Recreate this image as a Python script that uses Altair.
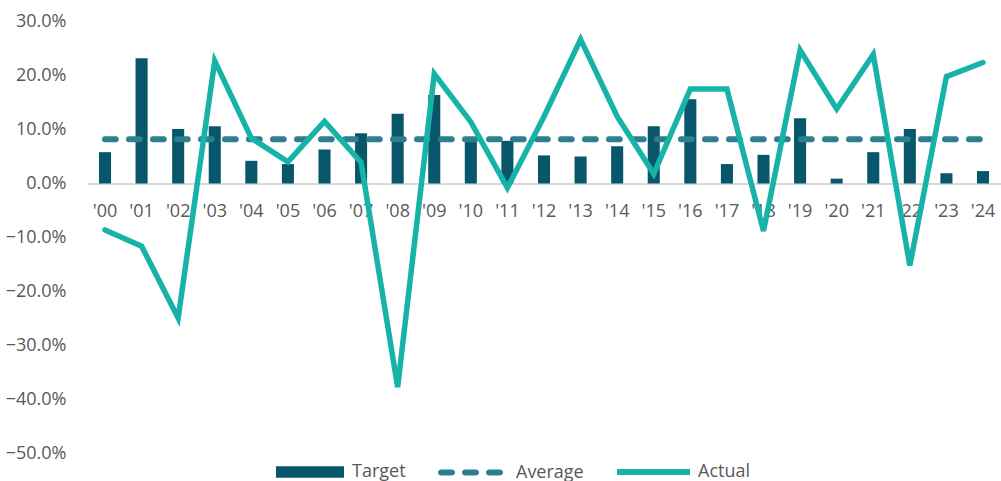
import altair as alt
import pandas as pd

years = ["'00", "'01", "'02", "'03", "'04", "'05", "'06", "'07", "'08", "'09",
         "'10", "'11", "'12", "'13", "'14", "'15", "'16", "'17", "'18", "'19",
         "'20", "'21", "'22", "'23", "'24"]
target = [5.8, 23.2, 10.1, 10.6, 4.2, 3.6, 6.3, 9.3, 12.9, 16.4,
          8.4, 7.9, 5.2, 5.0, 6.9, 10.6, 15.6, 3.6, 5.3, 12.1,
          0.9, 5.8, 10.1, 1.9, 2.3]
actual = [-8.6, -11.6, -24.9, 22.7, 8.4, 4.0, 11.5, 3.9, -37.7, 20.3,
          11.4, -0.8, 12.4, 26.7, 12.4, 1.8, 17.5, 17.5, -8.8, 24.7,
          13.8, 23.9, -15.2, 19.8, 22.4]
average = 8.2
y_ticks = [-50, -40, -30, -20, -10, 0, 10, 20, 30]

df = pd.DataFrame({
    "year": years,
    "target": target,
    "actual": actual,
    "average": [average] * len(years),
    "s_target": ["Target"] * len(years),
    "s_avg": ["Average"] * len(years),
    "s_act": ["Actual"] * len(years),
})

FONT = "Open Sans"
GREY = "#595959"
C_BAR = "#07566a"
C_AVG = "#2b7f8f"
C_ACT = "#17b3a8"

x_enc = alt.X(
    "year:N", sort=years,
    scale=alt.Scale(type="band", paddingInner=0.67, paddingOuter=0.327),
    axis=alt.Axis(title=None, orient="bottom", offset=-270, domainColor="#d9d9d9",
                  domainWidth=2, ticks=False, labelAngle=0, labelFont=FONT,
                  labelFontSize=18, labelColor=GREY, labelPadding=19, grid=False),
)
y_scale = alt.Scale(domain=[-50, 30], nice=False, zero=False)
y_axis = alt.Axis(title=None, values=y_ticks,
                  labelExpr="format(datum.value, '.1f') + '%'",
                  domain=False, ticks=False, grid=False, labelFont=FONT,
                  labelFontSize=18, labelColor=GREY, labelPadding=21)

common_leg = dict(orient="none", title=None, padding=0, labelFont=FONT,
                  labelFontSize=18, labelColor=GREY)

r = 3 / 32.5
def capsule(a, b):
    return (f"M{a + r:.4f},{-r:.4f}H{b - r:.4f}A{r:.4f},{r:.4f} 0 0 1 {b - r:.4f},{r:.4f}"
            f"H{a + r:.4f}A{r:.4f},{r:.4f} 0 0 1 {a + r:.4f},{-r:.4f}Z")
avg_path = capsule(-1, -0.477) + capsule(-0.262, 0.262) + capsule(0.477, 1)

bars = alt.Chart(df).mark_bar().encode(
    x=x_enc,
    y=alt.Y("target:Q", scale=y_scale, axis=y_axis),
    color=alt.Color("s_target:N", scale=alt.Scale(domain=["Target"], range=[C_BAR]),
                    legend=alt.Legend(legendX=189, legendY=416.5,
                                      symbolType="M-1,-0.17H1V0.17H-1Z", symbolSize=4624,
                                      symbolStrokeWidth=0, labelOffset=8, **common_leg)),
)

avg_line = alt.Chart(df).mark_line(strokeWidth=6, strokeDash=[10.7, 13.3], strokeCap="round").encode(
    x=x_enc,
    y=alt.Y("average:Q", scale=y_scale, axis=y_axis),
    color=alt.Color("s_avg:N", scale=alt.Scale(domain=["Average"], range=[C_AVG]),
                    legend=alt.Legend(legendX=351, legendY=418.5, symbolType=avg_path,
                                      symbolSize=4225, symbolFillColor=C_AVG,
                                      symbolStrokeWidth=0, labelOffset=13, **common_leg)),
)

act_line = alt.Chart(df).mark_line(strokeWidth=5.5, strokeCap="round").encode(
    x=x_enc,
    y=alt.Y("actual:Q", scale=y_scale, axis=y_axis),
    color=alt.Color("s_act:N", scale=alt.Scale(domain=["Actual"], range=[C_ACT]),
                    legend=alt.Legend(legendX=527, legendY=411, symbolType="stroke",
                                      symbolSize=5329, symbolStrokeWidth=6,
                                      labelOffset=5, **common_leg)),
)

chart = alt.layer(bars, avg_line, act_line).resolve_scale(color="independent").properties(
    width=914, height=432,
    background="white",
    autosize=alt.AutoSizeParams(type="none"),
    padding={"left": 87, "top": 21.5, "right": 0, "bottom": 27.5},
).configure_view(stroke=None)

chart.save("out.html", embed_options={"renderer": "svg", "actions": False})
